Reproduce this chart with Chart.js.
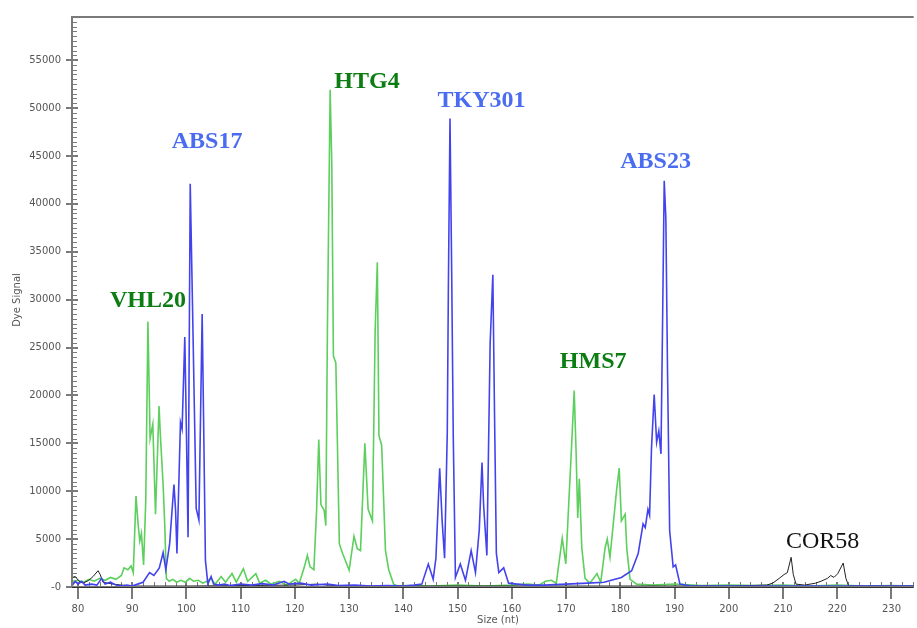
<!DOCTYPE html>
<html>
<head>
<meta charset="utf-8">
<script src="https://cdn.jsdelivr.net/npm/chart.js@4"></script>
<style>
  html, body { margin: 0; padding: 0; background: #fff; }
  #wrap { width: 917px; height: 628px; position: relative; }
</style>
</head>
<body>
<div id="wrap"><canvas id="scan"></canvas></div>
<script>
// Size (nt) / dye signal pairs
const greenSize = [79, 80, 81, 82, 83, 84, 85, 86, 87, 88, 88.5, 89.2, 89.8, 90.2, 90.7, 91.1, 91.4, 91.7, 92.1, 92.5, 92.9, 93.3, 93.8, 94.3, 94.95, 95.2, 95.7, 96, 96.3, 96.8, 97.5, 98.2, 99, 99.8, 100.6, 101.3, 102.2, 103, 103.8, 104.55, 105.3, 106.4, 107.2, 108.4, 109.2, 110.5, 111.3, 112.8, 113.5, 114.6, 115.6, 117.1, 118.5, 120.15, 120.8, 121.7, 122.3, 122.8, 123.5, 124, 124.4, 124.8, 125.4, 125.7, 126, 126.5, 126.8, 127.1, 127.55, 128.2, 128.8, 130, 130.9, 131.5, 132.1, 132.9, 133.5, 134.3, 134.8, 135.2, 135.5, 136, 136.7, 137.3, 138.2, 139, 140, 145, 150, 155, 160, 163, 165, 166.2, 167.3, 168.2, 169.3, 169.95, 171.05, 171.5, 171.85, 172.15, 172.45, 172.9, 173.5, 174.4, 175.7, 176.4, 177.2, 177.6, 178.1, 179.3, 179.8, 180.2, 180.9, 181.2, 181.8, 183, 186, 190, 195, 200, 205, 210, 215, 220, 225, 230, 234.2];
const greenSignal = [600, 700, 500, 800, 600, 900, 700, 1000, 800, 1200, 2000, 1800, 2200, 1500, 9500, 6500, 4800, 5600, 2300, 9000, 27700, 15500, 17000, 7600, 18900, 15800, 10700, 6500, 900, 600, 800, 500, 700, 500, 900, 600, 700, 400, 600, 900, 300, 1100, 500, 1400, 500, 1900, 600, 1400, 400, 700, 300, 600, 200, 800, 400, 2000, 3300, 2100, 1800, 8000, 15400, 8600, 8000, 6400, 27200, 51900, 44300, 24100, 23400, 4500, 3500, 1750, 5300, 4000, 3800, 15000, 8100, 6900, 26800, 33900, 15800, 14800, 3800, 1800, 300, 100, 150, 100, 200, 100, 200, 300, 200, 600, 700, 400, 5100, 2400, 15100, 20500, 14100, 7200, 11300, 4100, 900, 400, 1400, 500, 4100, 5000, 3100, 10000, 12400, 6900, 7600, 4000, 800, 300, 200, 300, 150, 200, 150, 200, 100, 200, 100, 150, 100];

const blueSize = [79, 79.5, 80, 80.7, 81.3, 82.5, 83.5, 84.35, 85, 86, 87, 88, 89, 90, 91, 92, 93.2, 94, 95, 95.7, 96.2, 96.9, 97.7, 98, 98.25, 98.9, 99.2, 99.7, 100, 100.3, 100.7, 101.1, 101.5, 101.8, 102.3, 102.9, 103.2, 103.5, 103.95, 104.55, 105, 106, 107, 108, 110, 112, 114, 116, 118, 119, 121, 123, 126, 128, 131, 134, 137, 140, 142, 143.4, 144.6, 145.5, 146, 146.7, 147.15, 147.6, 148.1, 148.3, 148.6, 148.9, 149.2, 149.6, 150.5, 151.45, 152.5, 153.3, 154, 154.5, 154.8, 155.4, 156, 156.5, 156.8, 157.15, 157.6, 158.5, 159.4, 161, 163, 166, 170, 174, 177, 180.2, 182.1, 183.3, 184.2, 184.6, 185.1, 185.4, 185.75, 186.25, 186.7, 187.1, 187.5, 187.8, 188.1, 188.4, 188.7, 189.1, 189.75, 190.2, 191, 193, 200, 210, 220, 234.2];
const blueSignal = [200, 600, 300, 600, 200, 300, 200, 900, 300, 500, 200, 100, 200, 100, 300, 500, 1500, 1200, 2000, 3600, 1800, 4500, 10700, 8000, 3500, 17200, 16500, 26100, 16000, 5200, 42100, 30000, 17500, 8200, 7000, 28500, 16000, 2800, 300, 1100, 300, 200, 300, 150, 300, 200, 350, 200, 600, 300, 400, 200, 300, 150, 200, 100, 150, 100, 200, 300, 2400, 800, 3000, 12400, 6900, 3000, 16200, 31300, 48900, 33400, 15800, 1000, 2400, 700, 3800, 1500, 6000, 13000, 8500, 3300, 25400, 32600, 18500, 3500, 1500, 2000, 400, 300, 200, 200, 300, 400, 500, 1000, 1700, 3500, 6600, 6200, 8100, 7500, 14400, 20100, 15100, 16300, 13900, 27800, 42400, 38500, 23000, 5900, 2100, 2300, 300, 100, 100, 100, 100, 100];

const blackSize = [79, 79.5, 80.2, 81, 82, 82.8, 83.7, 84.1, 84.6, 85.5, 86.5, 88, 90, 95, 100, 110, 120, 124, 126, 130, 140, 160, 180, 200, 207, 208.1, 209.3, 210.2, 210.8, 211.5, 211.9, 212.4, 214, 216, 217, 218.2, 218.8, 219.4, 220.1, 221.1, 221.6, 222.1, 225, 234.2];
const blackSignal = [1000, 1100, 600, 400, 700, 1100, 1700, 1300, 500, 400, 300, 200, 100, 100, 100, 150, 200, 300, 200, 100, 100, 100, 100, 100, 200, 400, 900, 1300, 1500, 3100, 1300, 300, 200, 400, 600, 900, 1200, 1000, 1400, 2500, 900, 100, 100, 100];

// Marker names and where they sit (size, signal at text baseline)
const markerNames = ['VHL20', 'ABS17', 'HTG4', 'TKY301', 'HMS7', 'ABS23', 'COR58'];
const markerSize = [92.9, 103.8, 133.3, 154.4, 175.0, 186.5, 217.3];
const markerSignal = [29250, 45830, 52120, 50060, 22870, 43770, 4120];
const markerDye = ['green', 'blue', 'green', 'blue', 'green', 'blue', 'black'];

const xTicks = [80, 90, 100, 110, 120, 130, 140, 150, 160, 170, 180, 190, 200, 210, 220, 230];
const yTicks = [0, 5000, 10000, 15000, 20000, 25000, 30000, 35000, 40000, 45000, 50000, 55000];

function pairs(xs, ys) {
    return xs.map((x, i) => ({ x: x, y: ys[i] }));
}

const labelColors = { green: '#0b7d12', blue: '#4a6cf0', black: '#111' };

// Axis lines, tick marks, titles and marker names
const decor = {
    id: 'decor',
    beforeDatasetsDraw(chart) {
        const { ctx, chartArea: a, scales: { x, y } } = chart;
        ctx.save();
        ctx.strokeStyle = '#7a7a7a';
        ctx.lineWidth = 1;
        // minor ticks
        ctx.beginPath();
        for (let v = 500; v < 59500; v += 500) {
            if (v % 5000 === 0) continue;
            const py = Math.round(y.getPixelForValue(v)) + 0.5;
            ctx.moveTo(a.left, py); ctx.lineTo(a.left + 5, py);
        }
        for (let v = 80; v <= 234; v += 2) {
            if (v % 10 === 0) continue;
            const px = Math.round(x.getPixelForValue(v)) + 0.5;
            ctx.moveTo(px, a.bottom); ctx.lineTo(px, a.bottom - 5);
        }
        ctx.stroke();
        // major ticks
        ctx.lineWidth = 2;
        ctx.beginPath();
        yTicks.forEach(v => {
            const py = Math.round(y.getPixelForValue(v));
            ctx.moveTo(a.left - 6, py); ctx.lineTo(a.left + 6, py);
        });
        xTicks.forEach(v => {
            const px = Math.round(x.getPixelForValue(v));
            ctx.moveTo(px, a.bottom - 5); ctx.lineTo(px, a.bottom + 12);
        });
        ctx.stroke();
        ctx.restore();
    },
    afterDatasetsDraw(chart) {
        const { ctx, chartArea: a, scales: { x, y } } = chart;
        ctx.save();
        // axes
        ctx.strokeStyle = '#7a7a7a';
        ctx.lineWidth = 2;
        ctx.beginPath();
        ctx.moveTo(a.right, a.top); ctx.lineTo(a.left, a.top);
        ctx.lineTo(a.left, a.bottom); ctx.lineTo(a.right, a.bottom);
        ctx.stroke();
        ctx.strokeStyle = '#333';
        ctx.lineWidth = 1;
        ctx.beginPath();
        ctx.moveTo(a.left, a.bottom + 0.5); ctx.lineTo(a.right, a.bottom + 0.5);
        ctx.stroke();

        // titles
        ctx.fillStyle = '#555';
        ctx.font = '10px "DejaVu Sans"';
        ctx.textAlign = 'center';
        ctx.textBaseline = 'middle';
        ctx.fillText('Size (nt)', 498, 620);
        ctx.translate(17, 300);
        ctx.rotate(-Math.PI / 2);
        ctx.fillText('Dye Signal', 0, 0);
        ctx.setTransform(1, 0, 0, 1, 0, 0);

        // marker names
        ctx.textBaseline = 'alphabetic';
        markerNames.forEach((name, i) => {
            const dye = markerDye[i];
            ctx.fillStyle = labelColors[dye];
            ctx.font = (dye === 'black' ? '' : 'bold ') + '24px "Liberation Serif"';
            ctx.fillText(name, x.getPixelForValue(markerSize[i]), y.getPixelForValue(markerSignal[i]));
        });
        ctx.restore();
    }
};

new Chart(document.getElementById('scan'), {
    type: 'line',
    data: {
        datasets: [
            {
                label: 'blue',
                data: pairs(blueSize, blueSignal),
                borderColor: '#4343ee',
                borderWidth: 1.6
            },
            {
                label: 'black',
                data: pairs(blackSize, blackSignal),
                borderColor: '#222',
                borderWidth: 1
            },
            {
                label: 'green',
                data: pairs(greenSize, greenSignal),
                borderColor: '#5ccf5c',
                borderWidth: 1.6
            }
        ]
    },
    options: {
        responsive: true,
        maintainAspectRatio: false,
        animation: false,
        events: [],
        elements: {
            line: { tension: 0, fill: false },
            point: { radius: 0 }
        },
        layout: { padding: { top: 9, right: 0, left: 0, bottom: 0 } },
        plugins: {
            legend: { display: false },
            tooltip: { enabled: false }
        },
        scales: {
            x: {
                type: 'linear',
                min: 78.9,
                max: 234.1,
                afterBuildTicks: s => { s.ticks = xTicks.map(v => ({ value: v })); },
                afterFit: s => { s.height = 41; },
                grid: { display: false, drawTicks: false },
                border: { display: false },
                ticks: {
                    autoSkip: false,
                    maxRotation: 0,
                    padding: 16,
                    color: '#555',
                    font: { family: 'DejaVu Sans', size: 10 }
                }
            },
            y: {
                type: 'linear',
                min: 0,
                max: 59500,
                afterBuildTicks: s => { s.ticks = yTicks.map(v => ({ value: v })); },
                afterFit: s => { s.width = 72; },
                grid: { display: false, drawTicks: false },
                border: { display: false },
                ticks: {
                    autoSkip: false,
                    padding: 11,
                    color: '#555',
                    font: { family: 'DejaVu Sans', size: 10 },
                    callback: v => (v === 0 ? '-0' : String(v))
                }
            }
        }
    },
    plugins: [decor]
});
</script>
</body>
</html>
